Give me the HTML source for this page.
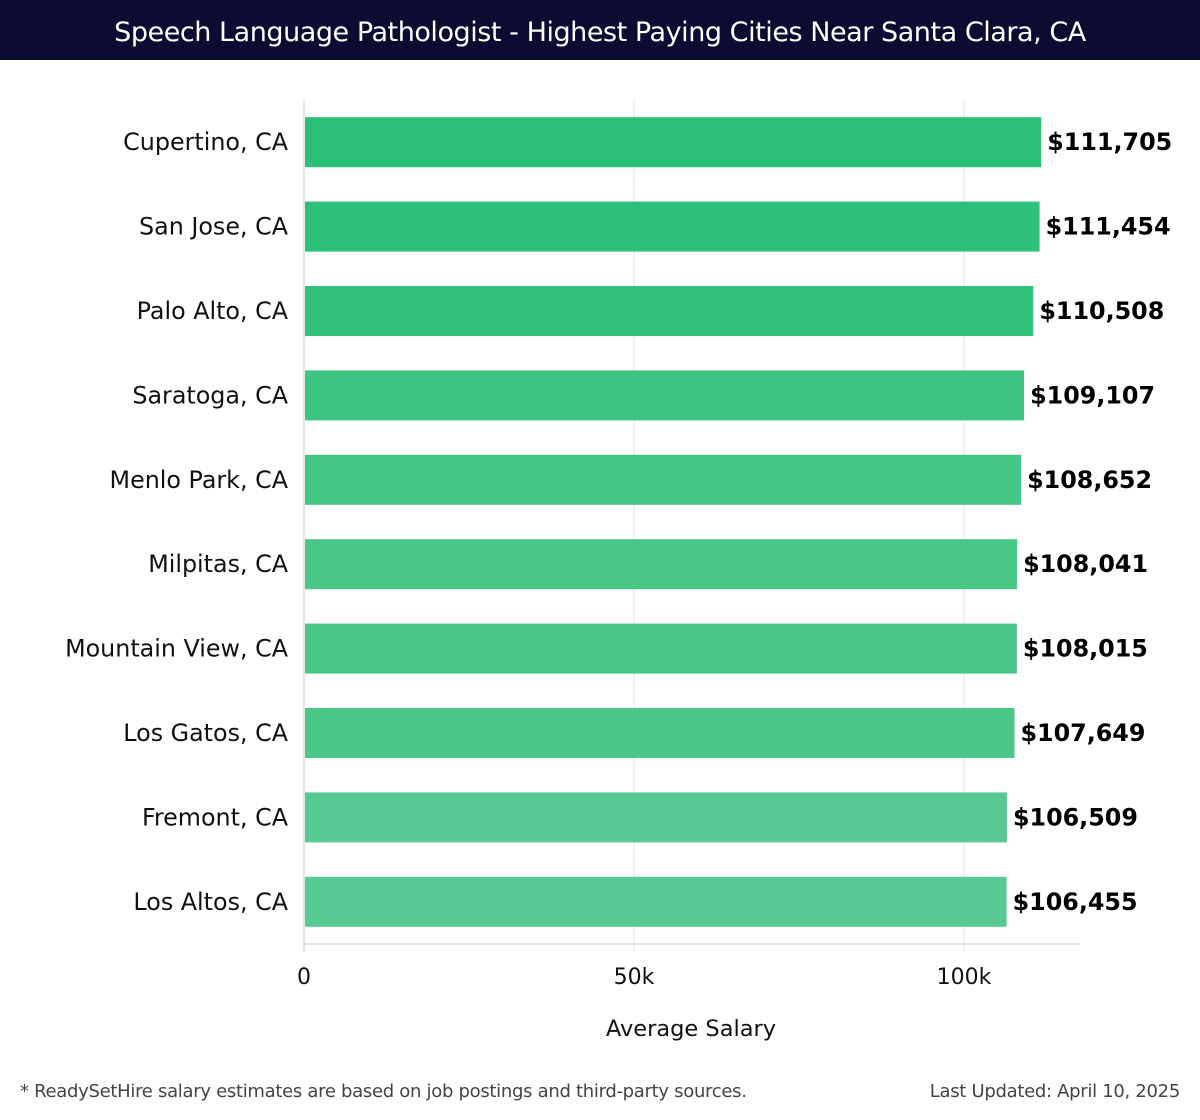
<!DOCTYPE html>
<html><head><meta charset="utf-8"><style>
body{margin:0;width:1200px;height:1120px;background:#fff;font-family:"DejaVu Sans",sans-serif;overflow:hidden}
</style></head><body>
<div style="position:absolute;left:0;top:0;width:1200px;height:60px;background:#0c0c33;color:#fff;font-size:27px;line-height:66px;text-align:center;font-family:'DejaVu Sans',sans-serif;letter-spacing:-0.45px">Speech Language Pathologist - Highest Paying Cities Near Santa Clara, CA</div>
<svg id="chart" width="1200" height="1120" style="position:absolute;left:0;top:0;font-family:'DejaVu Sans',sans-serif"></svg>
<div style="position:absolute;left:20px;top:1081px;font-size:18px;color:#444;font-family:'DejaVu Sans',sans-serif;letter-spacing:-0.3px">* ReadySetHire salary estimates are based on job postings and third-party sources.</div>
<div style="position:absolute;right:20px;top:1081px;font-size:18px;color:#444;font-family:'DejaVu Sans',sans-serif;letter-spacing:-0.3px">Last Updated: April 10, 2025</div>
<script>
const cities=["Cupertino, CA","San Jose, CA","Palo Alto, CA","Saratoga, CA","Menlo Park, CA","Milpitas, CA","Mountain View, CA","Los Gatos, CA","Fremont, CA","Los Altos, CA"];
const salaries=[111705,111454,110508,109107,108652,108041,108015,107649,106509,106455];
const tickValues=[0,50000,100000];
const tickLabels=["0","50k","100k"];
const colors=["#2bbf78","#2dc07a","#33c27d","#3ec482","#44c585","#47c687","#47c687","#4ac789","#56ca92","#57cb93"];
const svg=document.getElementById('chart');
const NS='http://www.w3.org/2000/svg';
const x=v=>304+v*(660/100000);
const top0=100,step=84.4;
const yc=i=>top0+step*(i+0.5);
function mk(t,a){const e=document.createElementNS(NS,t);for(const k in a)e.setAttribute(k,a[k]);svg.appendChild(e);return e;}
tickValues.forEach((v,i)=>{
 const g=mk('line',{x1:x(v),x2:x(v),y1:100,y2:952,stroke:i==0?'#ccc':'#e3e3e3','stroke-width':1});
 
 
 const t=mk('text',{x:x(v),y:984,'font-size':22,'text-anchor':'middle',fill:'#111'});
 t.textContent=tickLabels[i];
 
 
});
const ax=mk('line',{x1:304,x2:1079,y1:944,y2:944,stroke:'#ccc'});


cities.forEach((c,i)=>{
 const cy=yc(i);
 const r=mk('rect',{x:x(0)+1,y:cy-25,width:x(salaries[i])-x(0)-1,height:50,fill:colors[i]});
 
 
 const l=mk('text',{x:288,y:cy+8,'font-size':23.8,'text-anchor':'end',fill:'#111'});
 l.textContent=c;
 
 
 const v=mk('text',{x:x(salaries[i])+6,y:cy+8,'font-size':23.8,'font-weight':'bold',fill:'#000'});
 v.textContent='$'+salaries[i].toLocaleString('en-US');
 
 
});
const xt=mk('text',{x:691,y:1036,'font-size':22.5,'text-anchor':'middle',fill:'#111'});
xt.textContent='Average Salary';


</script>
</body></html>
